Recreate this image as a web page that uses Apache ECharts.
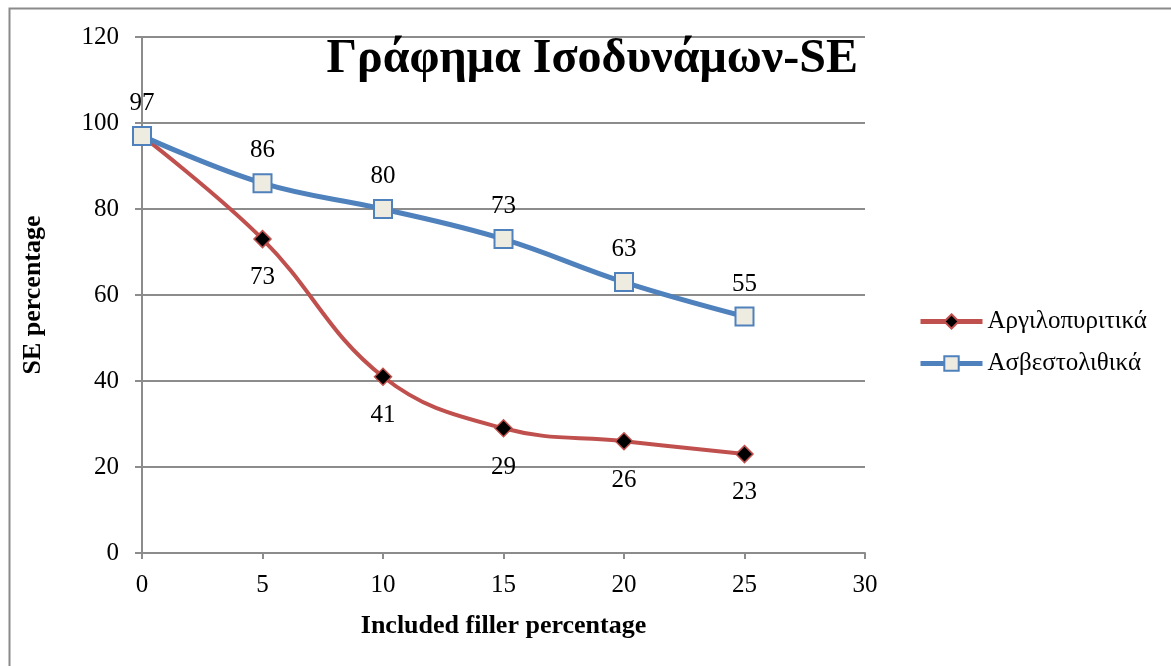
<!DOCTYPE html>
<html>
<head>
<meta charset="utf-8">
<script src="https://cdn.jsdelivr.net/npm/echarts@6/dist/echarts.min.js"></script>
<style>
  html, body { margin: 0; padding: 0; background: #fff; }
  #chart { width: 1171px; height: 666px; }
</style>
</head>
<body>
<div id="chart"></div>
<script>
// Filler percentage on the x axis and SE percentage for each filler type
const fillerPct = [0, 5, 10, 15, 20, 25];
const argiloSE = [97, 73, 41, 29, 26, 23];   // Αργιλοπυριτικά
const asvestoSE = [97, 86, 80, 73, 63, 55];  // Ασβεστολιθικά
const seriesNames = ['Αργιλοπυριτικά', 'Ασβεστολιθικά'];
const titleText = 'Γράφημα Ισοδυνάμων-SE';
const xName = 'Included filler percentage';
const yName = 'SE percentage';

const serif = '"Liberation Serif", "DejaVu Serif", serif';
const chart = echarts.init(document.getElementById('chart'), null, { renderer: 'canvas' });

const pairs = (ys) => fillerPct.map((x, i) => [x, ys[i]]);

chart.setOption({
  animation: false,
  backgroundColor: '#fff',
  graphic: [{
    type: 'rect',
    left: 7, top: 6,
    shape: { width: 1200, height: 700 },
    style: { fill: 'none', stroke: '#8a8a8a', lineWidth: 2 },
    z: -1
  }],
  title: {
    text: titleText,
    right: 308, top: 31,
    textStyle: { fontFamily: serif, fontSize: 48, fontWeight: 'bold', color: '#000' }
  },
  legend: {
    orient: 'vertical',
    left: 918, top: 309, padding: 0,
    itemWidth: 62, itemHeight: 18, itemGap: 17,
    lineStyle: { width: 5 },
    textStyle: { fontFamily: serif, fontSize: 25, color: '#000' },
    data: seriesNames
  },
  grid: { left: 142, right: 306, top: 37, bottom: 113 },
  xAxis: {
    type: 'value', min: 0, max: 30, interval: 5,
    name: xName, nameLocation: 'middle', nameGap: 60,
    nameTextStyle: { fontFamily: serif, fontSize: 26, fontWeight: 'bold', color: '#000' },
    axisLine: { lineStyle: { color: '#8c8c8c', width: 2 } },
    axisTick: { show: true, length: 6, lineStyle: { color: '#8c8c8c', width: 2 } },
    axisLabel: { fontFamily: serif, fontSize: 25, color: '#000', margin: 20 },
    splitLine: { show: false }
  },
  yAxis: {
    type: 'value', min: 0, max: 120, interval: 20,
    name: yName, nameLocation: 'middle', nameGap: 96, nameRotate: 90,
    nameTextStyle: { fontFamily: serif, fontSize: 26, fontWeight: 'bold', color: '#000' },
    axisLine: { show: true, lineStyle: { color: '#8c8c8c', width: 2 } },
    axisTick: { show: true, length: 7, lineStyle: { color: '#8c8c8c', width: 2 } },
    axisLabel: { fontFamily: serif, fontSize: 25, color: '#000', margin: 23 },
    splitLine: { lineStyle: { color: '#8c8c8c', width: 2 } }
  },
  series: [
    {
      name: seriesNames[0],
      type: 'line',
      smooth: 0.4,
      data: pairs(argiloSE),
      lineStyle: { color: '#C0504D', width: 4 },
      itemStyle: { color: '#000', borderColor: '#C0504D', borderWidth: 1.5 },
      symbol: 'diamond', symbolSize: 17,
      label: {
        show: true, position: 'bottom', distance: 17,
        fontFamily: serif, fontSize: 25, color: '#000',
        formatter: (p) => (p.dataIndex === 0 ? '' : p.value[1])
      },
      z: 2
    },
    {
      name: seriesNames[1],
      type: 'line',
      smooth: 0.4,
      data: pairs(asvestoSE),
      lineStyle: { color: '#4F81BD', width: 5 },
      itemStyle: { color: '#EEECE1', borderColor: '#4F81BD', borderWidth: 2 },
      symbol: 'rect', symbolSize: 18,
      label: {
        show: true, position: 'top', distance: 10,
        fontFamily: serif, fontSize: 25, color: '#000'
      },
      z: 3
    }
  ]
});
</script>
</body>
</html>
